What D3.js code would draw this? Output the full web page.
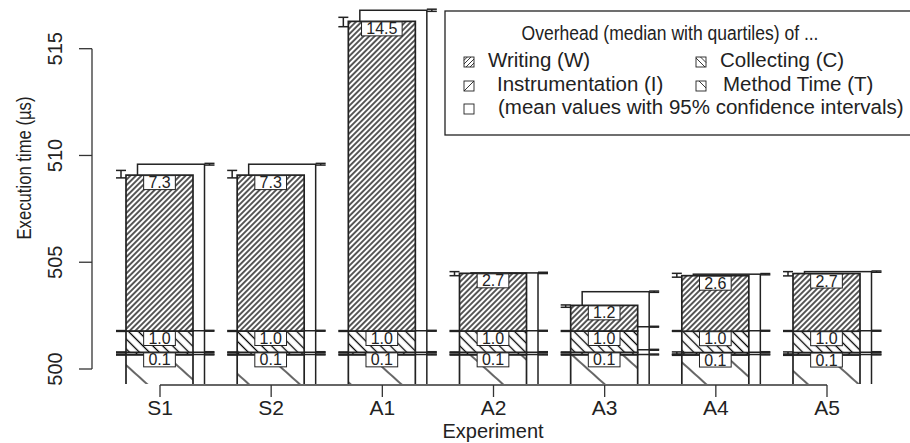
<!DOCTYPE html>
<html>
<head>
<meta charset="utf-8">
<script src="https://cdn.jsdelivr.net/npm/d3@7"></script>
<style>
  body { margin: 0; background: #fff; }
  text { font-family: "Liberation Sans", Arial, Helvetica, sans-serif; fill: #222; }
</style>
</head>
<body>
<svg id="chart" width="910" height="443"></svg>
<script>
/* global d3 */

// experiments on the x axis
var experiments = ["S1", "S2", "A1", "A2", "A3", "A4", "A5"];

// median overhead parts (µs), stacked from the bottom: T, I, C, W
var medMethod  = [500.67, 500.67, 500.67, 500.67, 500.67, 500.66, 500.66];
var medInstr   = [0.11, 0.11, 0.11, 0.11, 0.11, 0.11, 0.11];
var medCollect = [1.0, 1.0, 1.0, 1.0, 1.0, 1.0, 1.0];
var medWrite   = [7.3, 7.3, 14.5, 2.7, 1.2, 2.6, 2.7];

// quartiles of the stacked medians (lower / upper)
var q1Total = [508.95, 508.95, 516.03, 504.37, 502.89, 504.30, 504.36];
var q3Total = [509.30, 509.30, 516.47, 504.56, 503.00, 504.48, 504.56];
var q1Collect = [501.76, 501.76, 501.76, 501.76, 501.76, 501.76, 501.76];
var q3Collect = [501.80, 501.80, 501.80, 501.80, 501.80, 501.80, 501.80];
var q1Instr = [500.76, 500.76, 500.76, 500.76, 500.76, 500.70, 500.70];
var q3Instr = [500.80, 500.80, 500.80, 500.80, 500.80, 500.80, 500.80];

// mean overhead parts (µs)
var meanMethod  = [500.68, 500.68, 500.68, 500.68, 500.68, 500.68, 500.68];
var meanInstr   = [0.11, 0.11, 0.11, 0.11, 0.22, 0.11, 0.11];
var meanCollect = [1.0, 1.0, 1.0, 1.0, 1.08, 1.0, 1.0];
var meanWrite   = [7.80, 7.80, 15.01, 2.71, 1.64, 2.65, 2.77];
// half width of the 95% confidence intervals of the stacked means
var ciTotal = [0.04, 0.04, 0.05, 0.03, 0.03, 0.03, 0.03];
var ciLevel = [0.02, 0.02, 0.02, 0.02, 0.02, 0.02, 0.02];

var yTicks = [500, 505, 510, 515];
var yLow = 499.3;   // lower end of the plot area

var legendTitle = "Overhead (median with quartiles) of ...";
var legendItems = ["Writing (W)", "Collecting (C)", "Instrumentation (I)", "Method Time (T)",
                   "(mean values with 95% confidence intervals)"];

var svg = d3.select("#chart");
var ink = "#222";

var y = d3.scaleLinear().domain([500, 515]).range([369, 48.7]);
var x = d3.scalePoint().domain(experiments).range([160, 827]);
var bottom = y(yLow);
var barW = 67, meanOff = 11;

// hatch patterns
var defs = svg.append("defs");
function addHatch(id, step, angle, sw) {
  var p = defs.append("pattern").attr("id", id)
    .attr("patternUnits", "userSpaceOnUse")
    .attr("width", step).attr("height", step)
    .attr("patternTransform", "rotate(" + angle + ")");
  p.append("line").attr("x1", step / 2).attr("x2", step / 2)
    .attr("y1", -1).attr("y2", step + 1)
    .attr("stroke", "#000").attr("stroke-width", sw);
}
addHatch("hW", 3.9, 45, 1.3);
addHatch("hC", 7, -45, 1.3);
addHatch("hI", 9, 45, 1.2);
addHatch("hT", 34, -48, 1.2);
var pats = ["hT", "hI", "hC", "hW"];

defs.append("clipPath").attr("id", "plotClip")
  .append("rect").attr("x", 0).attr("y", 0).attr("width", 910).attr("height", bottom);

var rows = experiments.map(function (e, i) {
  var m = [medMethod[i], medInstr[i], medCollect[i], medWrite[i]];
  var a = [meanMethod[i], meanInstr[i], meanCollect[i], meanWrite[i]];
  return {
    name: e,
    med: m,
    medLev: d3.cumsum(m),
    meanLev: d3.cumsum(a),
    q: [[q1Instr[i], q3Instr[i]], [q1Collect[i], q3Collect[i]], [q1Total[i], q3Total[i]]],
    ci: [ciLevel[i], ciLevel[i], ciTotal[i]]
  };
});

var plot = svg.append("g").attr("clip-path", "url(#plotClip)");

function errBar(g, xc, lo, hi) {
  g.append("line").attr("x1", xc).attr("x2", xc).attr("y1", y(lo)).attr("y2", y(hi));
  g.append("line").attr("x1", xc - 5).attr("x2", xc + 5).attr("y1", y(lo)).attr("y2", y(lo));
  g.append("line").attr("x1", xc - 5).attr("x2", xc + 5).attr("y1", y(hi)).attr("y2", y(hi));
}

// mean boxes behind the median bars
rows.forEach(function (d) {
  var cx = x(d.name);
  var left = cx - barW / 2 + meanOff;
  var g = plot.append("g").attr("stroke", ink).attr("stroke-width", 1.5);
  var top = d.meanLev[3];
  g.append("rect").attr("x", left).attr("y", y(top))
    .attr("width", barW).attr("height", bottom - y(top) + 10)
    .attr("fill", "#fff");
  d.meanLev.slice(0, 3).forEach(function (v) {
    g.append("line").attr("x1", left).attr("x2", left + barW).attr("y1", y(v)).attr("y2", y(v));
  });
  // confidence intervals at the right side
  d.meanLev.slice(1).forEach(function (v, k) {
    errBar(g, left + barW + 5, v - d.ci[k], v + d.ci[k]);
  });
  errBar(g, left + barW + 5, d.meanLev[0] - 0.02, d.meanLev[0] + 0.02);
});

// median bars
rows.forEach(function (d) {
  var cx = x(d.name);
  var left = cx - barW / 2 - 0.5;
  var g = plot.append("g");
  d.medLev.forEach(function (v, k) {
    var y0 = k === 0 ? bottom + 10 : y(d.medLev[k - 1]);
    var y1 = y(v);
    g.append("rect").attr("x", left).attr("y", y1).attr("width", barW).attr("height", y0 - y1)
      .attr("fill", "#fff");
    g.append("rect").attr("x", left).attr("y", y1).attr("width", barW).attr("height", y0 - y1)
      .attr("fill", "url(#" + pats[k] + ")")
      .attr("stroke", ink).attr("stroke-width", 1.7);
  });
  // quartiles at the left side
  var eg = plot.append("g").attr("stroke", ink).attr("stroke-width", 1.5);
  d.q.forEach(function (q) { errBar(eg, left - 5, q[0], q[1]); });
  errBar(eg, left - 5, d.medLev[0] - 0.02, d.medLev[0] + 0.02);

  // value labels of I, C and W
  [1, 2, 3].forEach(function (k) {
    var txt = d3.format(".1f")(d.med[k]);
    var w = txt.length * 8.9 + 5;
    var ty = y(d.medLev[k]) + 0.5;
    plot.append("rect").attr("x", cx - 0.5 - w / 2).attr("y", ty)
      .attr("width", w).attr("height", 14)
      .attr("fill", "#fff").attr("stroke", ink).attr("stroke-width", 1);
    plot.append("text").attr("x", cx - 0.5).attr("y", ty + 12.5)
      .attr("text-anchor", "middle").attr("font-size", 16).text(txt);
  });
});

// y axis
var ya = svg.append("g").attr("stroke", "#333").attr("stroke-width", 1.3);
ya.append("line").attr("x1", 92).attr("x2", 92).attr("y1", y(500)).attr("y2", y(515));
yTicks.forEach(function (t) {
  ya.append("line").attr("x1", 79).attr("x2", 92).attr("y1", y(t)).attr("y2", y(t));
  svg.append("text").attr("transform", "translate(62," + y(t) + ") rotate(-90)")
    .attr("text-anchor", "middle").attr("font-size", 20).text(t);
});
svg.append("text").attr("transform", "translate(31,168) rotate(-90)")
  .attr("text-anchor", "middle").attr("font-size", 20)
  .attr("textLength", 143).attr("lengthAdjust", "spacingAndGlyphs")
  .text("Execution time (µs)");

// x axis
var xa = svg.append("g").attr("stroke", "#333").attr("stroke-width", 1.3);
xa.append("line").attr("x1", x(experiments[0])).attr("x2", x(experiments[experiments.length - 1]))
  .attr("y1", 385).attr("y2", 385);
experiments.forEach(function (e) {
  xa.append("line").attr("x1", x(e)).attr("x2", x(e)).attr("y1", 385).attr("y2", 397);
  svg.append("text").attr("x", x(e)).attr("y", 415).attr("text-anchor", "middle")
    .attr("font-size", 21).text(e);
});
svg.append("text").attr("x", 493).attr("y", 438).attr("text-anchor", "middle")
  .attr("font-size", 20).text("Experiment");

// legend
var lg = svg.append("g");
lg.append("rect").attr("x", 445).attr("y", 11).attr("width", 480).attr("height", 124)
  .attr("fill", "#fff").attr("stroke", ink).attr("stroke-width", 1.3);
lg.append("text").attr("x", 670).attr("y", 40).attr("text-anchor", "middle")
  .attr("font-size", 19.5).attr("textLength", 297).attr("lengthAdjust", "spacingAndGlyphs")
  .text(legendTitle);

var sw = 10;
var slots = [[464, 488, 67], [696, 720, 67], [464, 497, 91], [696, 723, 91], [464, 498, 114]];
var swatchLines = [
  [[0, 3.3, 3.3, 0], [0, 7, 7, 0], [2, 10, 10, 2], [6, 10, 10, 6]],
  [[0, 1, 9, 10], [4.5, 0, 10, 5.5]],
  [[0, 10, 10, 0]],
  [[3, 0, 10, 7]],
  []
];
slots.forEach(function (s, i) {
  var sg = lg.append("g").attr("transform", "translate(" + s[0] + "," + (s[2] - sw) + ")")
    .attr("stroke", ink).attr("stroke-width", 0.9);
  sg.append("rect").attr("width", sw).attr("height", sw).attr("fill", "#fff");
  swatchLines[i].forEach(function (l) {
    sg.append("line").attr("x1", l[0]).attr("y1", l[1]).attr("x2", l[2]).attr("y2", l[3]);
  });
  lg.append("text").attr("x", s[1]).attr("y", s[2]).attr("font-size", 20.5).text(legendItems[i]);
});
</script>
</body>
</html>
